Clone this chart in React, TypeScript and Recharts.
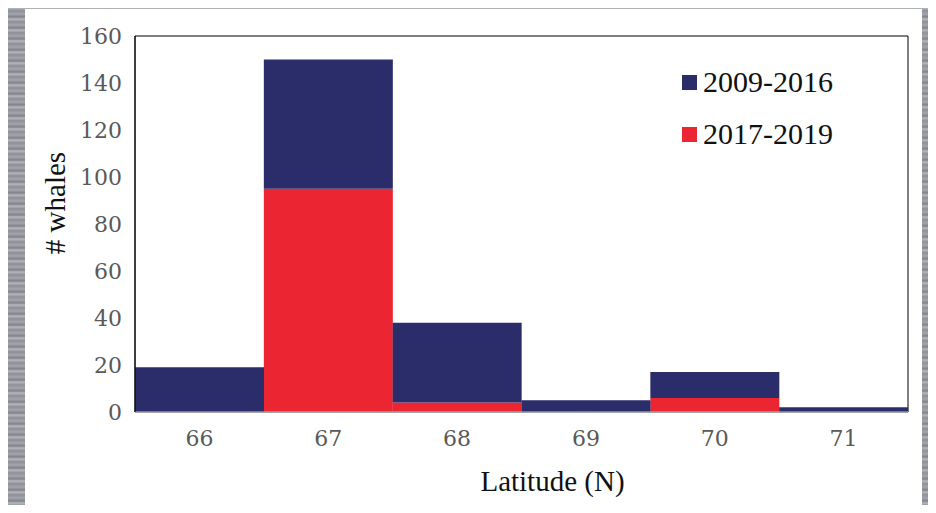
import React from "react";
import { BarChart, Bar, XAxis, YAxis, ReferenceArea, Label } from "recharts";

const latitudes = ["66", "67", "68", "69", "70", "71"];
const totals0916 = [19, 150, 38, 5, 17, 2];
const counts1719 = [0, 95, 4, 0, 6, 0];
const yTicks = [0, 20, 40, 60, 80, 100, 120, 140, 160];

const NAVY = "#2b2d6b";
const RED = "#ec2533";

const rows = latitudes.map((lat, i) => ({
  lat,
  recent: counts1719[i],
  earlier: totals0916[i] - counts1719[i],
}));

const legendItems = [
  { label: "2009-2016", color: NAVY },
  { label: "2017-2019", color: RED },
];

function LegendBox() {
  return (
    <div
      style={{
        position: "absolute",
        left: 657,
        top: 47,
        fontFamily: "Liberation Serif",
        fontSize: 30,
        color: "#111",
      }}
    >
      {legendItems.map((it) => (
        <div key={it.label} style={{ display: "flex", alignItems: "center", height: 52 }}>
          <span style={{ width: 15, height: 15, background: it.color, marginRight: 6, display: "inline-block" }} />
          <span>{it.label}</span>
        </div>
      ))}
    </div>
  );
}

export default function App() {
  const tick = { fill: "#595959", fontSize: 22, fontFamily: "DejaVu Serif" };
  return (
    <div
      style={{
        margin: -8,
        width: 936,
        height: 513,
        position: "relative",
        overflow: "hidden",
        background:
          "repeating-linear-gradient(180deg, #8d9096 0px, #a3a6ab 3px, #7f8288 6px, #b5b8bc 8px, #8a8d93 11px)",
      }}
    >
      <div style={{ position: "absolute", left: 25, top: 9, width: 897, height: 496, background: "#fff" }}>
        <BarChart
          width={897}
          height={496}
          data={rows}
          margin={{ top: 27, right: 14, left: 0, bottom: 0 }}
          barCategoryGap={0}
        >
          <ReferenceArea y1={0} y2={160} fill="none" stroke="#000" strokeWidth={1} ifOverflow="visible" />
          <XAxis
            dataKey="lat"
            height={93}
            tickLine={false}
            axisLine={{ stroke: "#c4cad6" }}
            tick={tick}
            tickMargin={12}
          >
            <Label
              value="Latitude (N)"
              position="insideBottom"
              offset={14}
              dx={31}
              style={{ fontFamily: "Liberation Serif", fontSize: 29, fill: "#111" }}
            />
          </XAxis>
          <YAxis
            width={110}
            domain={[0, 160]}
            ticks={yTicks}
            tickLine={false}
            axisLine={{ stroke: "#000" }}
            tick={tick}
            tickMargin={7}
          >
            <Label
              content={() => (
                <text
                  x={40}
                  y={194}
                  transform="rotate(-90 40 194)"
                  textAnchor="middle"
                  style={{ fontFamily: "Liberation Serif", fontSize: 29, fill: "#111" }}
                >
                  # whales
                </text>
              )}
            />
          </YAxis>
          <Bar dataKey="recent" stackId="a" fill={RED} isAnimationActive={false} />
          <Bar dataKey="earlier" stackId="a" fill={NAVY} isAnimationActive={false} />
        </BarChart>
        <LegendBox />
      </div>
    </div>
  );
}
